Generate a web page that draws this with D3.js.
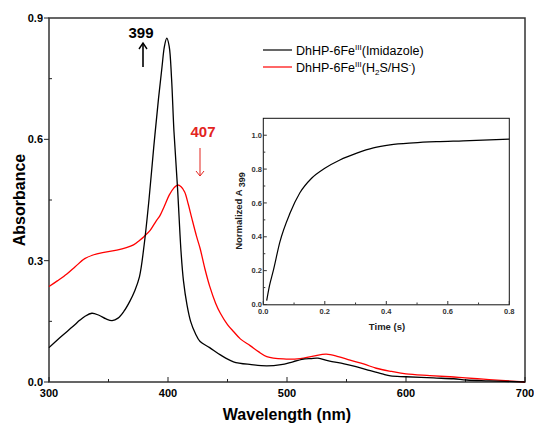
<!DOCTYPE html>
<html>
<head>
<meta charset="utf-8">
<script src="https://cdn.jsdelivr.net/npm/d3@7"></script>
<style>
  body { margin: 0; background: #fff; }
  text { font-family: "Liberation Sans", Arial, sans-serif; }
</style>
</head>
<body>
<div id="chart"></div>
<script>
// main spectra (wavelength nm, absorbance)
var wlImid = [300,310,320,326,330,336,342,348,353,358,363,368,372,376,380,384,388,392,395,397,399,401,403,405,408,411,413,416,419,423,427,435,444,455,470,483,495,505,515,520,526,535,548,558,570,580,587,600,623,640,651,670,700];
var absImid = [0.085,0.112,0.137,0.153,0.162,0.170,0.165,0.156,0.152,0.158,0.175,0.200,0.225,0.26,0.34,0.45,0.58,0.70,0.78,0.83,0.85,0.83,0.75,0.62,0.48,0.32,0.25,0.19,0.15,0.12,0.10,0.085,0.067,0.050,0.043,0.040,0.043,0.050,0.057,0.058,0.059,0.052,0.045,0.038,0.028,0.020,0.015,0.013,0.010,0.008,0.005,0.003,0.0];

var wlSulf = [300,307,315,322,330,337,345,357,365,371,376,380,385,390,393,397,401,405,408,411,414,417,420,424,427,431,435,440,444,450,455,461,469,476,483,497,511,522,533,543,553,565,575,588,600,620,637,650,665,680,700];
var absSulf = [0.236,0.25,0.267,0.285,0.305,0.314,0.320,0.326,0.332,0.339,0.35,0.36,0.375,0.398,0.41,0.435,0.462,0.48,0.487,0.483,0.47,0.44,0.405,0.36,0.33,0.28,0.237,0.195,0.17,0.142,0.125,0.106,0.09,0.075,0.063,0.057,0.058,0.064,0.069,0.063,0.054,0.044,0.034,0.026,0.020,0.016,0.013,0.010,0.007,0.004,0.0];

// inset kinetics
var timeS = [0.011,0.02,0.0325,0.054,0.087,0.119,0.157,0.2,0.249,0.304,0.358,0.412,0.488,0.564,0.65,0.8];
var normA = [0.023,0.11,0.20,0.37,0.54,0.66,0.746,0.805,0.854,0.894,0.925,0.943,0.955,0.962,0.967,0.977];

var xTicks = [300,400,500,600,700];
var yTicks = [0.0,0.3,0.6,0.9];
var insetXTicks = [0.0,0.2,0.4,0.6,0.8];
var insetYTicks = [0.0,0.2,0.4,0.6,0.8,1.0];

var w = 534, h = 423;
var svg = d3.select("#chart").append("svg").attr("width", w).attr("height", h);

var x = d3.scaleLinear().domain([300,700]).range([49,525]);
var y = d3.scaleLinear().domain([0,0.9]).range([382,18]);

// frame
svg.append("rect").attr("x",49).attr("y",18).attr("width",476).attr("height",364)
    .attr("fill","none").attr("stroke","#333").attr("stroke-width",1.5);

// x axis: ticks inward, minor at 50
var gx = svg.append("g").attr("transform","translate(0,382)");
gx.selectAll(".minor").data(d3.range(350,700,100)).enter().append("line")
    .attr("x1",function(d){return x(d);}).attr("x2",function(d){return x(d);})
    .attr("y1",0).attr("y2",-3).attr("stroke","#222");
gx.selectAll(".major").data(xTicks).enter().append("line")
    .attr("x1",function(d){return x(d);}).attr("x2",function(d){return x(d);})
    .attr("y1",0).attr("y2",-5).attr("stroke","#222");
gx.selectAll("text").data(xTicks).enter().append("text")
    .attr("x",function(d){return x(d);}).attr("y",15)
    .attr("text-anchor","middle").attr("font-size",11).attr("font-weight","bold")
    .text(function(d){return d;});

// y axis: major outward, minor inward
var gy = svg.append("g").attr("transform","translate(49,0)");
gy.selectAll(".minor").data([0.15,0.45,0.75]).enter().append("line")
    .attr("y1",function(d){return y(d);}).attr("y2",function(d){return y(d);})
    .attr("x1",0).attr("x2",3).attr("stroke","#222");
gy.selectAll(".major").data(yTicks).enter().append("line")
    .attr("y1",function(d){return y(d);}).attr("y2",function(d){return y(d);})
    .attr("x1",0).attr("x2",-5).attr("stroke","#222");
gy.selectAll("text").data(yTicks).enter().append("text")
    .attr("x",-6).attr("y",function(d){return y(d)+4;})
    .attr("text-anchor","end").attr("font-size",11).attr("font-weight","bold")
    .text(function(d){return d.toFixed(1);});

// titles
svg.append("text").attr("x",287).attr("y",420).attr("text-anchor","middle")
    .attr("font-size",16).attr("font-weight","bold").text("Wavelength (nm)");
svg.append("text").attr("transform","translate(25,200) rotate(-90)").attr("text-anchor","middle")
    .attr("font-size",16).attr("font-weight","bold").text("Absorbance");

var line = d3.line()
    .x(function(d){return x(d[0]);})
    .y(function(d){return y(d[1]);})
    .curve(d3.curveCatmullRom.alpha(0.5));

svg.append("path").datum(d3.zip(wlSulf,absSulf)).attr("d",line)
    .attr("fill","none").attr("stroke","#ff0000").attr("stroke-width",1.3);
svg.append("path").datum(d3.zip(wlImid,absImid)).attr("d",line)
    .attr("fill","none").attr("stroke","#000").attr("stroke-width",1.3);

// peak annotations
svg.append("text").attr("x",141).attr("y",38).attr("text-anchor","middle")
    .attr("font-size",15).attr("font-weight","bold").attr("fill","#000").text("399");
svg.append("line").attr("x1",143).attr("x2",143).attr("y1",67).attr("y2",43)
    .attr("stroke","#000").attr("stroke-width",1.6);
svg.append("path").attr("d","M139,49 L143,43 L147,49").attr("fill","none").attr("stroke","#000").attr("stroke-width",1.4);

svg.append("text").attr("x",203).attr("y",137).attr("text-anchor","middle")
    .attr("font-size",15).attr("font-weight","bold").attr("fill","#e3241f").text("407");
svg.append("line").attr("x1",200).attr("x2",200).attr("y1",148).attr("y2",176)
    .attr("stroke","#e3241f").attr("stroke-width",1);
svg.append("path").attr("d","M196,171 L200,176 L204,171").attr("fill","none").attr("stroke","#e3241f").attr("stroke-width",1);

// legend
var leg = svg.append("g");
[["#000","(Imidazole)",50],["#ff0000",null,67]].forEach(function(l){
    leg.append("line").attr("x1",263).attr("x2",292).attr("y1",l[2]).attr("y2",l[2])
        .attr("stroke",l[0]).attr("stroke-width",1.2);
    var t = leg.append("text").attr("x",296).attr("y",l[2]+4.5).attr("font-size",12.5);
    t.append("tspan").text("DhHP-6Fe");
    t.append("tspan").attr("font-size",8).attr("dy",-5).text("III");
    if (l[1]) {
        t.append("tspan").attr("dy",5).text(l[1]);
    } else {
        t.append("tspan").attr("dy",5).text("(H");
        t.append("tspan").attr("font-size",8).attr("dy",3).text("2");
        t.append("tspan").attr("dy",-3).text("S/HS");
        t.append("tspan").attr("font-size",8).attr("dy",-5).text("-");
        t.append("tspan").attr("dy",5).text(")");
    }
});

// inset
var ix = d3.scaleLinear().domain([0,0.8]).range([263.3,509.3]);
var iy = d3.scaleLinear().domain([0,1.1]).range([304.5,118.3]);

svg.append("rect").attr("x",263.3).attr("y",118.3).attr("width",246).attr("height",186.5)
    .attr("fill","#fff").attr("stroke","#111").attr("stroke-width",1);

var ig = svg.append("g");
ig.selectAll(".ixm").data(d3.range(0.1,0.8,0.2)).enter().append("line")
    .attr("x1",function(d){return ix(d);}).attr("x2",function(d){return ix(d);})
    .attr("y1",304.5).attr("y2",302.5).attr("stroke","#333");
ig.selectAll(".ixM").data(insetXTicks).enter().append("line")
    .attr("x1",function(d){return ix(d);}).attr("x2",function(d){return ix(d);})
    .attr("y1",304.5).attr("y2",301).attr("stroke","#333");
ig.selectAll(".ixl").data(insetXTicks).enter().append("text")
    .attr("x",function(d){return ix(d);}).attr("y",314)
    .attr("text-anchor","middle").attr("font-size",7.5).attr("font-weight","bold").attr("fill","#333")
    .text(function(d){return d.toFixed(1);});
ig.selectAll(".iym").data(d3.range(0.1,1.1,0.2)).enter().append("line")
    .attr("y1",function(d){return iy(d);}).attr("y2",function(d){return iy(d);})
    .attr("x1",263.3).attr("x2",265.3).attr("stroke","#333");
ig.selectAll(".iyM").data(insetYTicks).enter().append("line")
    .attr("y1",function(d){return iy(d);}).attr("y2",function(d){return iy(d);})
    .attr("x1",263.3).attr("x2",266.8).attr("stroke","#333");
ig.selectAll(".iyl").data(insetYTicks).enter().append("text")
    .attr("x",262).attr("y",function(d){return iy(d)+2.7;})
    .attr("text-anchor","end").attr("font-size",7.5).attr("font-weight","bold").attr("fill","#333")
    .text(function(d){return d.toFixed(1);});

ig.append("text").attr("x",387).attr("y",330).attr("text-anchor","middle")
    .attr("font-size",9.5).attr("font-weight","bold").attr("fill","#222").text("Time (s)");
var yl = ig.append("text").attr("transform","translate(242,211) rotate(-90)").attr("text-anchor","middle")
    .attr("font-size",9.5).attr("font-weight","bold").attr("fill","#222");
yl.append("tspan").text("Normalized A ");
yl.append("tspan").attr("dy",3).attr("font-size",9).text("399");

var iline = d3.line()
    .x(function(d){return ix(d[0]);})
    .y(function(d){return iy(d[1]);})
    .curve(d3.curveMonotoneX);
ig.append("path").datum(d3.zip(timeS,normA)).attr("d",iline)
    .attr("fill","none").attr("stroke","#000").attr("stroke-width",1.2);
</script>
</body>
</html>
